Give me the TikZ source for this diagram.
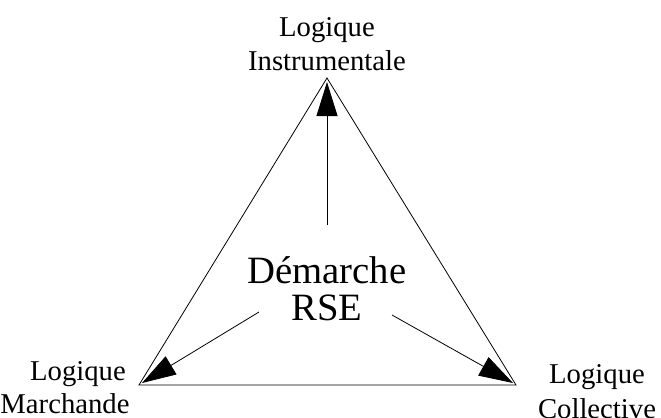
\documentclass[tikz,border=0pt]{standalone}
\usepackage{fontspec}
\setmainfont{Liberation Serif}
\usetikzlibrary{arrows.meta}
\begin{document}
\begin{tikzpicture}[x=1bp,y=-1bp,
  edge/.style={line width=0.8bp},
  arr/.style={line width=0.8bp,-{Triangle[length=34bp,width=21bp]}},
  lbl/.style={anchor=base,inner sep=0pt,font=\fontsize{28.7bp}{34bp}\selectfont},
  big/.style={anchor=base,inner sep=0pt,font=\fontsize{38.7bp}{40bp}\selectfont}]
\useasboundingbox (0,0) rectangle (661,417);
\coordinate (A) at (327,78);
\coordinate (B) at (139,385);
\coordinate (C) at (516,385);
\draw[edge] (A) -- (B) -- (C) -- cycle;
\node[big] (d1) at (327,283) {Démarche};
\node[big] (d2) at (327,320) {RSE};
\coordinate (sU) at (327,225);
\coordinate (sL) at (259,312);
\coordinate (sR) at (392,315);
\coordinate (tU) at (327,82);
\coordinate (tL) at (142,383);
\coordinate (tR) at (513,383);
\draw[arr] (sU) -- (tU);
\draw[arr] (sL) -- (tL);
\draw[arr] (sR) -- (tR);
\node[lbl] (t1) at (327,36) {Logique};
\node[lbl] (t2) at (327,70) {Instrumentale};
\node[lbl] (l1) at (78,380) {Logique};
\node[lbl] (l2) at (65,413) {Marchande};
\node[lbl] (r1) at (597,383) {Logique};
\node[lbl] (r2) at (597,418) {Collective};
\end{tikzpicture}
\end{document}
